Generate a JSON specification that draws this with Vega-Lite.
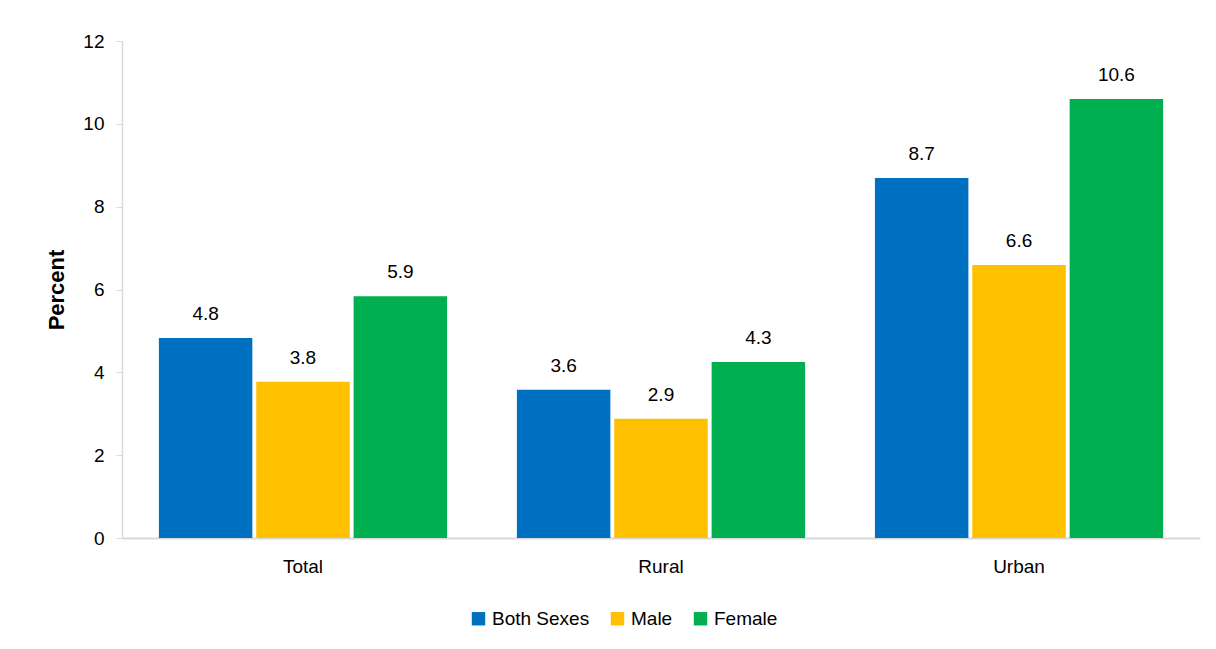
{
  "$schema": "https://vega.github.io/schema/vega-lite/v6.json",
  "autosize": {"type": "none"},
  "width": 1078,
  "height": 497,
  "padding": {"left": 122, "top": 41, "right": 16, "bottom": 111},
  "background": "white",
  "config": {
    "font": "Liberation Sans",
    "view": {"stroke": null},
    "axis": {"grid": false, "labelFont": "Liberation Sans", "titleFont": "Liberation Sans"}
  },
  "data": {
    "values": [
      {"area": "Total", "sex": "Both Sexes", "value": 4.83, "label": "4.8"},
      {"area": "Total", "sex": "Male", "value": 3.77, "label": "3.8"},
      {"area": "Total", "sex": "Female", "value": 5.84, "label": "5.9"},
      {"area": "Rural", "sex": "Both Sexes", "value": 3.58, "label": "3.6"},
      {"area": "Rural", "sex": "Male", "value": 2.88, "label": "2.9"},
      {"area": "Rural", "sex": "Female", "value": 4.25, "label": "4.3"},
      {"area": "Urban", "sex": "Both Sexes", "value": 8.69, "label": "8.7"},
      {"area": "Urban", "sex": "Male", "value": 6.59, "label": "6.6"},
      {"area": "Urban", "sex": "Female", "value": 10.6, "label": "10.6"}
    ]
  },
  "encoding": {
    "x": {
      "field": "area", "type": "nominal", "sort": ["Total", "Rural", "Urban"],
      "scale": {"paddingInner": 0.195, "paddingOuter": 0.103},
      "axis": {"title": null, "labelAngle": 0, "labelFontSize": 19, "labelColor": "#000000", "labelPadding": 19, "ticks": false, "domainColor": "#d9d9d9", "domainWidth": 2}
    },
    "xOffset": {
      "field": "sex", "type": "nominal", "sort": ["Both Sexes", "Male", "Female"],
      "scale": {"paddingInner": 0.04, "paddingOuter": 0}
    },
    "y": {
      "field": "value", "type": "quantitative",
      "scale": {"domain": [0, 12], "nice": false},
      "axis": {"title": "Percent", "titleFontSize": 22, "titleFontWeight": "bold", "titleColor": "#000000", "titlePadding": 14, "values": [0, 2, 4, 6, 8, 10, 12], "labelFontSize": 19, "labelColor": "#000000", "labelPadding": 12, "tickSize": 6, "tickColor": "#d9d9d9", "domainColor": "#d9d9d9", "domainWidth": 1.5}
    }
  },
  "layer": [
    {
      "mark": {"type": "bar"},
      "encoding": {
        "color": {
          "field": "sex", "type": "nominal", "sort": ["Both Sexes", "Male", "Female"],
          "scale": {"domain": ["Both Sexes", "Male", "Female"], "range": ["#0070C0", "#FFC000", "#00B050"]},
          "legend": {
            "title": null, "orient": "none", "direction": "horizontal",
            "legendX": 347, "legendY": 568,
            "symbolType": "square", "symbolSize": 180, "symbolStrokeWidth": 0,
            "labelFontSize": 19, "labelColor": "#000000", "labelFont": "Liberation Sans",
            "labelOffset": 4, "columnPadding": 18
          }
        }
      }
    },
    {
      "mark": {"type": "text", "baseline": "bottom", "dy": -14, "fontSize": 19, "color": "#000000"},
      "encoding": {"text": {"field": "label"}}
    }
  ]
}
